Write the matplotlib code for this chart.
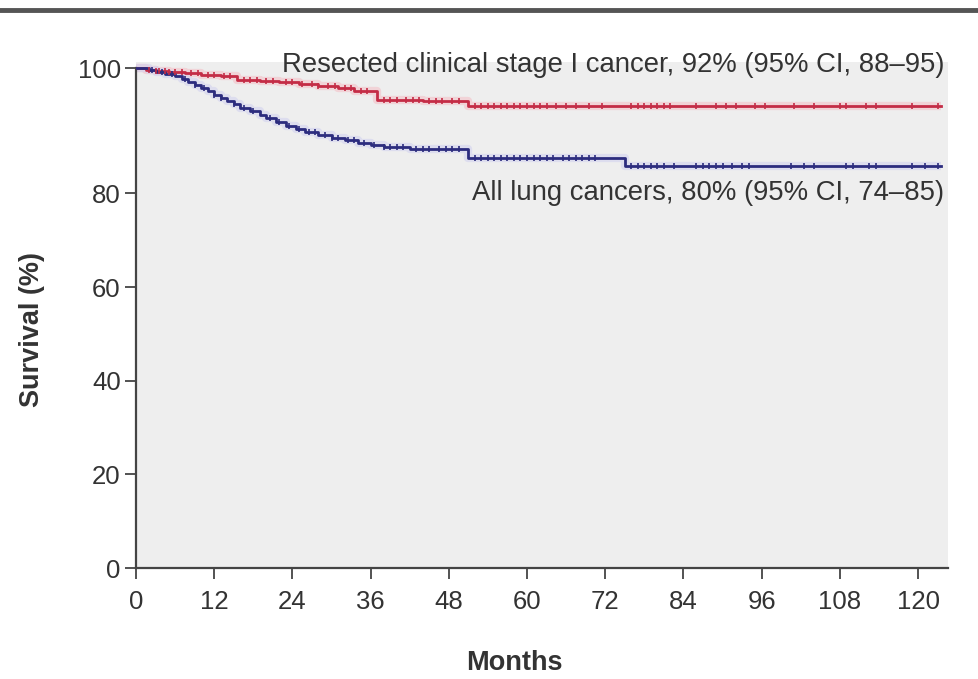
import matplotlib
matplotlib.use("Agg")
import matplotlib.pyplot as plt
from matplotlib.lines import Line2D
import numpy as np

plt.rcParams["font.family"] = ["Liberation Sans", "DejaVu Sans"]

# Kaplan-Meier steps (months, survival %)
red_t = [0, 1.5, 3, 5, 7.5, 10, 13, 15.5, 19, 22, 25, 28, 31, 33.5, 37, 44, 51]
red_s = [100, 99.8, 99.6, 99.4, 99.2, 99.0, 98.8, 98.2, 98.0, 97.8, 97.5, 97.2,
         96.8, 96.3, 95.0, 94.8, 94.0]

blue_t = [0, 2, 3, 4.5, 6, 7, 8, 9, 10, 11, 12, 13, 14, 15, 16, 17.5, 19, 20,
          21.5, 23, 24.5, 26, 28, 30, 32, 34, 36, 38, 42, 51, 75]
blue_s = [100, 99.7, 99.4, 99.1, 98.7, 98.3, 97.8, 97.3, 96.8, 96.3, 95.8, 95.3,
          94.8, 94.3, 93.7, 93.1, 92.5, 92.0, 91.4, 90.8, 90.3, 89.8, 89.3, 88.9,
          88.5, 88.1, 87.7, 87.4, 87.1, 85.6, 84.4]

# censored observations (months)
red_c = [2, 3, 3.5, 4.5, 5, 6, 7, 8.5, 9.5, 11, 12, 13.5, 14.5, 16.5, 17.5,
         18.5, 20, 21, 23, 24, 25.5, 27, 28, 29.5, 30.5, 32, 33, 34.5, 35.5, 38,
         39, 40, 41.5, 42.5, 43.5, 45, 46, 47, 48.5, 49.5, 52, 53, 54, 55, 56,
         57, 58, 59, 60, 61, 62, 63, 64.5, 66, 67.5, 69.5, 71.5, 76, 77, 78, 79,
         80, 81, 82, 86, 89, 90.5, 92, 95, 96.5, 101, 104, 108, 109, 112, 113.5,
         119, 123]
blue_c = [2.5, 4, 5.5, 7.5, 9, 10.5, 12, 13, 15, 16.5, 18, 20.5, 22, 23.5, 25,
          26.5, 27.5, 29, 30, 31, 32.5, 33.5, 35, 36.5, 38, 39, 40, 41, 43, 44,
          45, 46.5, 47.5, 48.5, 49.5, 52, 53, 54, 55, 56, 57, 58, 59, 60, 61, 62,
          63, 64, 65.5, 66.5, 67.5, 68.5, 69.5, 70.5, 76, 77, 78, 79, 80, 81,
          82.5, 86, 87, 88, 89, 90, 91.5, 93, 94, 100.5, 102.5, 104, 109, 110,
          112.5, 113.5, 119, 121, 123]
t_end = 123.5

red_label = "Resected clinical stage I cancer, 92% (95% CI, 88\u201395)"
blue_label = "All lung cancers, 80% (95% CI, 74\u201385)"

x_ticks = list(range(0, 121, 12))
y_ticks = [0, 20, 40, 60, 80, 100]

# upper band (80-100) is stretched relative to the rest of the axis
K = 1.337


def fwd(v):
    v = np.asarray(v, dtype=float)
    return np.where(v <= 80, v, 80 + (v - 80) * K)


def inv(v):
    v = np.asarray(v, dtype=float)
    return np.where(v <= 80, v, 80 + (v - 80) / K)


def surv_at(times, ts, ss):
    idx = np.searchsorted(ts, times, side="right") - 1
    return np.asarray(ss)[idx]


text_col = "#333333"
axis_col = "#444444"

fig = plt.figure(figsize=(9.79, 6.79), dpi=100)
ax = fig.add_axes([136 / 979, 1 - 568 / 679, (948 - 136) / 979, (568 - 62) / 679])
ax.set_facecolor("#eeeeee")
ax.set_yscale("function", functions=(fwd, inv))
ax.set_xlim(0, 124.6)
ax.set_ylim(0, 101)

curves = [
    (red_t, red_s, red_c, "#c42c46", "#f4c2c9"),
    (blue_t, blue_s, blue_c, "#2c2c7e", "#d2d2ef"),
]
for ts, ss, cs, col, halo in curves:
    tx = list(ts) + [t_end]
    sy = list(ss) + [ss[-1]]
    ax.step(tx, sy, where="post", color=halo, lw=6, alpha=0.6,
            solid_capstyle="butt", zorder=2)
    ax.step(tx, sy, where="post", color=col, lw=2.0, zorder=3)
    ax.plot(cs, surv_at(cs, ts, ss), ls="none", marker="|", ms=5, mew=1.2,
            color=col, zorder=4)

ax.text(124.0, 100.5, red_label, ha="right", va="center",
        fontsize=19.8, color=text_col, zorder=5)
ax.text(124.0, 80.1, blue_label, ha="right", va="center",
        fontsize=19.8, color=text_col, zorder=5)

for side in ["top", "right"]:
    ax.spines[side].set_visible(False)
for side in ["left", "bottom"]:
    ax.spines[side].set_color(axis_col)
    ax.spines[side].set_linewidth(1.6)
ax.spines["left"].set_bounds(0, 100)

ax.set_xticks(x_ticks)
ax.set_yticks(y_ticks)
ax.tick_params(axis="both", direction="out", length=8, width=1.3,
               color=axis_col, labelsize=18.5, labelcolor=text_col, pad=3)
ax.tick_params(axis="x", pad=8)

ax.set_xlabel("Months", fontsize=19.5, color=text_col, fontweight="bold")
ax.set_ylabel("Survival (%)", fontsize=19.5, color=text_col, fontweight="bold")
ax.xaxis.set_label_coords(0.466, -0.162)
ax.yaxis.set_label_coords(-0.112, 0.472)

# rule across the top of the panel
fig.add_artist(Line2D([0, 1], [1 - 10 / 679] * 2, color="#555555", lw=3.5,
                      transform=fig.transFigure))

fig.savefig("out.png", dpi=100, facecolor="white")
